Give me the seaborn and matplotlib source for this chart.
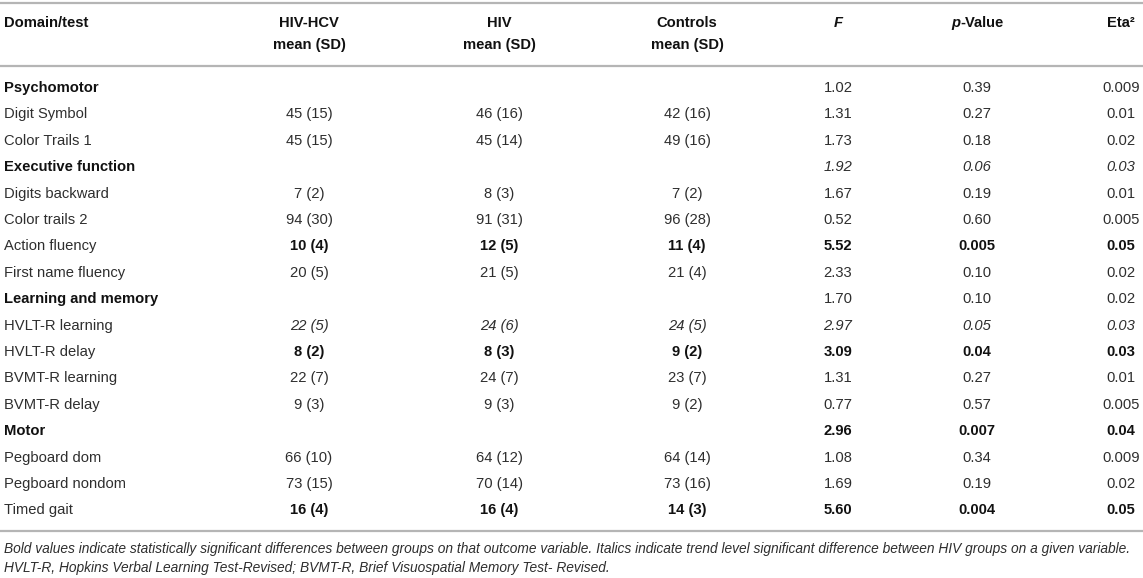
"""
Tabla de resultados neuropsicologicos por grupo (HIV-HCV, HIV, controles).
Genera out.png.
"""

import matplotlib
matplotlib.use("Agg")
import matplotlib.pyplot as plt
import seaborn as sns

sns.set_theme(style="white")
plt.rcParams["font.family"] = ["Liberation Sans", "DejaVu Sans"]

# ── datos ────────────────────────────────────────────────────────────────────
tests = [
    "Psychomotor", "Digit Symbol", "Color Trails 1",
    "Executive function", "Digits backward", "Color trails 2",
    "Action fluency", "First name fluency",
    "Learning and memory", "HVLT-R learning", "HVLT-R delay",
    "BVMT-R learning", "BVMT-R delay",
    "Motor", "Pegboard dom", "Pegboard nondom", "Timed gait",
]
hcv_mean = [None, 45, 45, None, 7, 94, 10, 20, None, 22, 8, 22, 9, None, 66, 73, 16]
hcv_sd   = [None, 15, 15, None, 2, 30, 4, 5, None, 5, 2, 7, 3, None, 10, 15, 4]
hiv_mean = [None, 46, 45, None, 8, 91, 12, 21, None, 24, 8, 24, 9, None, 64, 70, 16]
hiv_sd   = [None, 16, 14, None, 3, 31, 5, 5, None, 6, 3, 7, 3, None, 12, 14, 4]
ctl_mean = [None, 42, 49, None, 7, 96, 11, 21, None, 24, 9, 23, 9, None, 64, 73, 14]
ctl_sd   = [None, 16, 16, None, 2, 28, 4, 4, None, 5, 2, 7, 2, None, 14, 16, 3]
f_vals   = [1.02, 1.31, 1.73, 1.92, 1.67, 0.52, 5.52, 2.33, 1.70, 2.97, 3.09,
            1.31, 0.77, 2.96, 1.08, 1.69, 5.60]
p_vals   = ["0.39", "0.27", "0.18", "0.06", "0.19", "0.60", "0.005", "0.10", "0.10",
            "0.05", "0.04", "0.27", "0.57", "0.007", "0.34", "0.19", "0.004"]
eta_vals = ["0.009", "0.01", "0.02", "0.03", "0.01", "0.005", "0.05", "0.02", "0.02",
            "0.03", "0.03", "0.01", "0.005", "0.04", "0.009", "0.02", "0.05"]

domain_rows = {"Psychomotor", "Executive function", "Learning and memory", "Motor"}
bold_rows   = {"Action fluency", "HVLT-R delay", "Motor", "Timed gait"}
italic_rows = {"Executive function", "HVLT-R learning"}

footnote = [
    "Bold values indicate statistically significant differences between groups on that "
    "outcome variable. Italics indicate trend level significant difference between HIV "
    "groups on a given variable.",
    "HVLT-R, Hopkins Verbal Learning Test-Revised; BVMT-R, Brief Visuospatial Memory Test- Revised.",
]

# ── layout (pixeles) ─────────────────────────────────────────────────────────
W, H = 1143, 578
FS = 10.6
TXT = "#2e2e2e"
LINE = "#b5b5b5"
col_x = {"hcv": 309, "hiv": 499, "ctl": 687, "f": 838, "p": 977, "eta": 1121}
row_y0, row_dy = 88, 26.4


def fmt_ms(m, s):
    return "" if m is None else f"{m} ({s})"


fig = plt.figure(figsize=(W / 100, H / 100), dpi=100)
ax = fig.add_axes([0, 0, 1, 1])
ax.set_xlim(0, W)
ax.set_ylim(H, 0)
ax.axis("off")

for y in (3, 66, 531):
    ax.axhline(y, color=LINE, linewidth=1.6)

# cabecera
hd = dict(fontsize=FS, fontweight="bold", color="#111", va="center")
ax.text(4, 23, "Domain/test", ha="left", **hd)
for key, name in [("hcv", "HIV-HCV"), ("hiv", "HIV"), ("ctl", "Controls")]:
    ax.text(col_x[key], 23, name, ha="center", **hd)
    ax.text(col_x[key], 45, "mean (SD)", ha="center", **hd)
ax.text(col_x["f"], 23, "F", ha="center", style="italic", **hd)
p_txt = ax.text(col_x["p"] - 26, 23, "p", ha="left", style="italic", **hd)
ax.annotate("-Value", xy=(1, 0), xycoords=p_txt, va="bottom", ha="left",
            fontsize=FS, fontweight="bold", color="#111")
ax.text(col_x["eta"], 23, "Eta²", ha="center", **hd)

# filas
for i, name in enumerate(tests):
    y = row_y0 + i * row_dy
    ax.text(4, y, name, ha="left", va="center", fontsize=FS,
            fontweight="bold" if name in domain_rows else "normal",
            color="#111" if name in domain_rows else TXT)
    w = "bold" if name in bold_rows else "normal"
    st = "italic" if name in italic_rows else "normal"
    c = "#111" if name in bold_rows else TXT
    cells = [
        ("hcv", fmt_ms(hcv_mean[i], hcv_sd[i])),
        ("hiv", fmt_ms(hiv_mean[i], hiv_sd[i])),
        ("ctl", fmt_ms(ctl_mean[i], ctl_sd[i])),
        ("f", f"{f_vals[i]:.2f}"),
        ("p", p_vals[i]),
        ("eta", eta_vals[i]),
    ]
    for key, val in cells:
        ax.text(col_x[key], y, val, ha="center", va="center", fontsize=FS,
                fontweight=w, style=st, color=c)

# nota al pie
for j, line in enumerate(footnote):
    ax.text(4, 549 + j * 19, line, ha="left", va="center", fontsize=9.95,
            style="italic", color=TXT)

fig.savefig("out.png", dpi=100)
plt.close(fig)
